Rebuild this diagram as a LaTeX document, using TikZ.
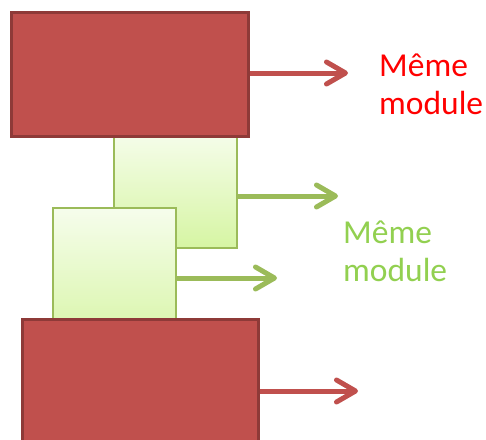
\documentclass[tikz,border=0pt]{standalone}
\usepackage{fontspec}
\setmainfont{Carlito}
\usetikzlibrary{arrows.meta}
\definecolor{boxred}{HTML}{C0504D}
\definecolor{boxredline}{HTML}{8E3A38}
\definecolor{greenline}{HTML}{9BBB59}
\definecolor{greentop}{HTML}{F6FDEC}
\definecolor{greenbot}{HTML}{D6F5A3}
\definecolor{labelgreen}{HTML}{92D050}
\definecolor{labelred}{HTML}{FF0000}
\begin{document}
\begin{tikzpicture}[x=1pt,y=-1pt,
  redbox/.style={draw=boxredline, line width=3pt, fill=boxred, anchor=north west, inner sep=0pt},
  greenbox/.style={draw=greenline, line width=1.5pt, top color=greentop, bottom color=greenbot, anchor=north west, inner sep=0pt},
  conn/.style={line width=5pt, -{Straight Barb[length=19pt,width=22pt,round]}},
  redconn/.style={conn, draw=boxred},
  greenconn/.style={conn, draw=greenline},
  lbl/.style={anchor=base west, align=left, inner sep=0pt, font=\fontsize{33.5}{38}\selectfont}
]
\useasboundingbox (0,0) rectangle (486,439);
\clip (0,0) rectangle (486,439);
\fill[white] (0,0) rectangle (486,439);
% green boxes (back first)
\node[greenbox, minimum width=123pt, minimum height=117pt] (g1) at (113,130) {};
\node[greenbox, minimum width=123pt, minimum height=142pt] (g2) at (52,207) {};
% red boxes
\node[redbox, minimum width=237pt, minimum height=124pt] (r1) at (10,11) {};
\node[redbox, minimum width=236pt, minimum height=146pt] (r2) at (21,318) {};
% arrow ends
\coordinate (e1) at (348,73);
\coordinate (e2) at (338,196);
\coordinate (e3) at (277,278);
\coordinate (e4) at (358,391);
\draw[redconn] (e1 -| r1.east) -- (e1);
\draw[greenconn] (e2 -| g1.east) -- (e2);
\draw[greenconn] (e3 -| g2.east) -- (e3);
\draw[redconn] (e4 -| r2.east) -- (e4);
% labels
\node[lbl, text=labelred] (l1) at (379,114) {Même\\module};
\node[lbl, text=labelgreen] (l2) at (343,281) {Même\\module};
\end{tikzpicture}
\end{document}
